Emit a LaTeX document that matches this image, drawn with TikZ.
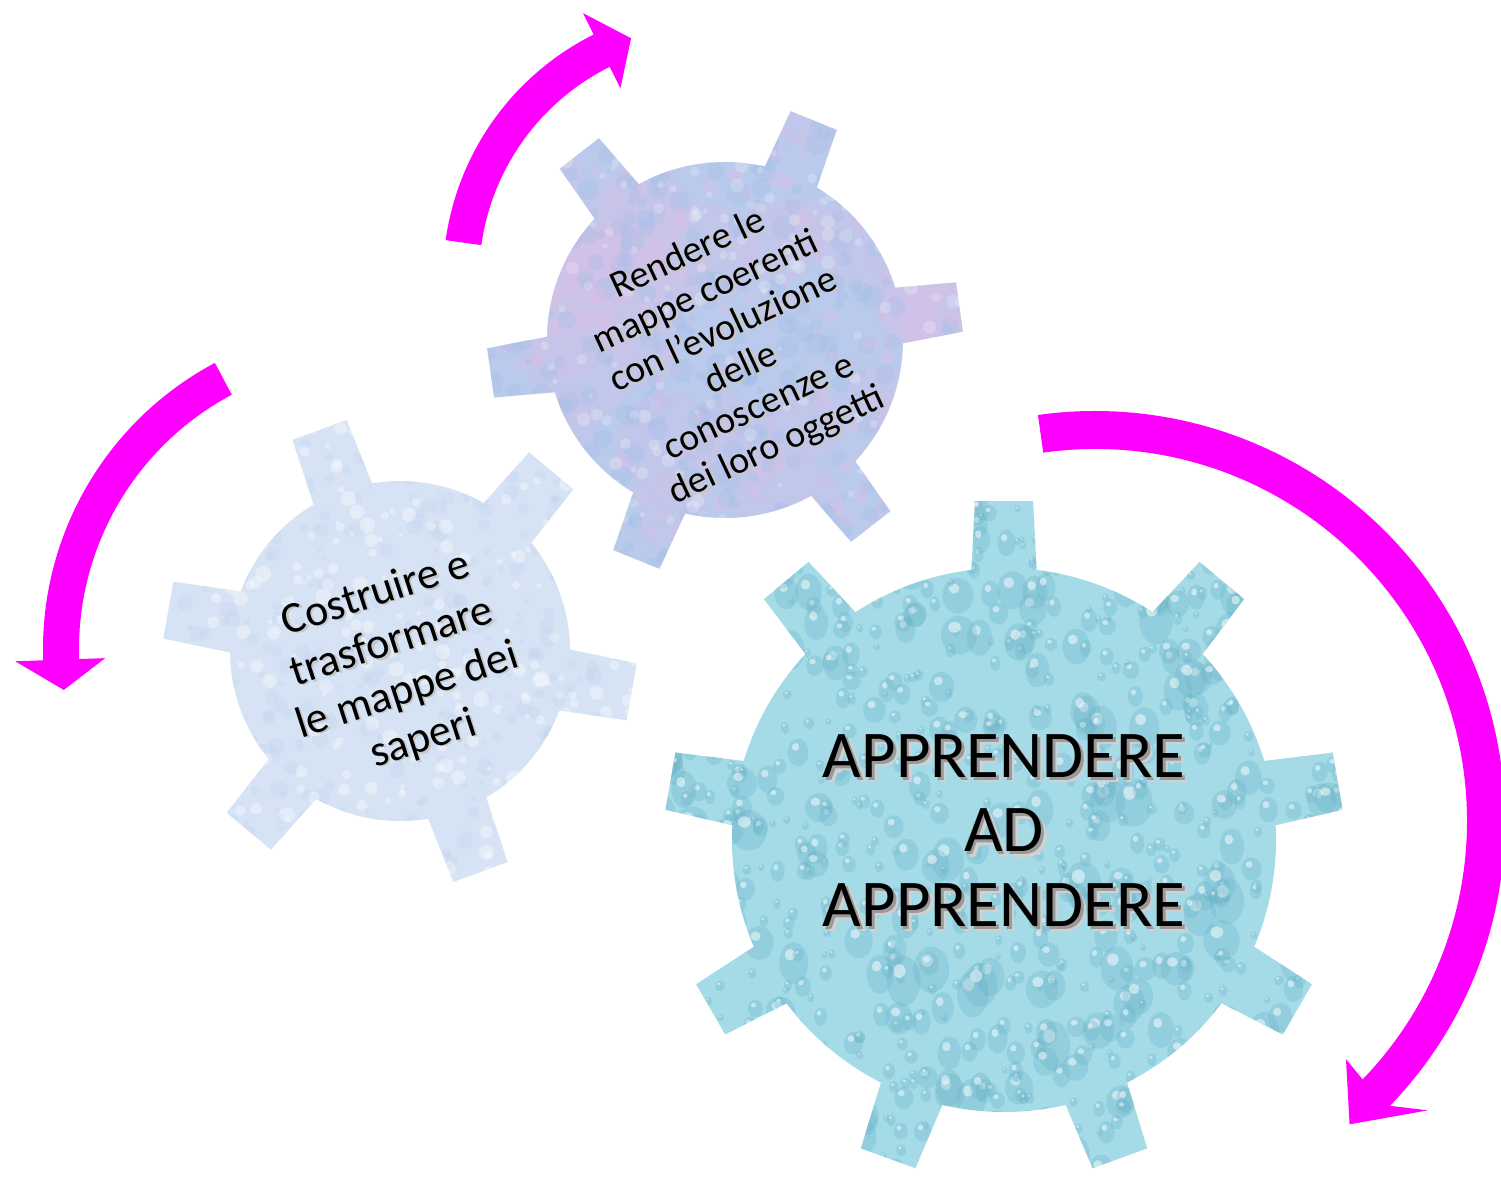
\documentclass[tikz,border=0pt]{standalone}
\usepackage{fontspec}
\setmainfont{Carlito}
\definecolor{magentaarrow}{RGB}{255,0,255}
\definecolor{dropbase}{RGB}{164,219,230}
\definecolor{dropdark}{RGB}{96,172,196}
\definecolor{lavender}{RGB}{186,202,236}
\definecolor{lavpink}{RGB}{226,188,230}
\definecolor{lavblue}{RGB}{160,190,232}
\definecolor{paleblue}{RGB}{214,227,245}
\definecolor{paleblob}{RGB}{194,213,238}

% outline of a gear centred at the origin:
% #1 root radius, #2 tip radius, #3 teeth, #4 angle of first tooth,
% #5 half angle of a tooth at the root, #6 half angle at the tip
\newcommand{\gearpath}[6]{%
  ({#4-#5}:#1)
  \foreach \k in {1,...,#3}{
    -- ({#4+(\k-1)*360/#3-#6}:#2)
    -- ({#4+(\k-1)*360/#3+#6}:#2)
    -- ({#4+(\k-1)*360/#3+#5}:#1)
    arc[start angle={#4+(\k-1)*360/#3+#5}, end angle={#4+\k*360/#3-#5}, radius=#1]
  } -- cycle}

% a line of text with a soft grey shadow below right
\newcommand{\shadowed}[1]{\leavevmode
  \rlap{\kern1.5pt\raisebox{-1.5pt}{\color{black!18}#1}}%
  \rlap{\kern0.8pt\raisebox{-0.8pt}{\color{black!40}#1}}#1}
\newcommand{\faint}[1]{\leavevmode
  \rlap{\kern0.5pt\raisebox{-0.5pt}{\color{black!22}#1}}#1}

\tikzset{
  ringarrow/.style={fill=magentaarrow},
  bigtext/.style={align=center, inner sep=0pt, text=black,
    font=\fontsize{19}{21.2}\selectfont},
  midtext/.style={align=center, inner sep=0pt, text=black,
    font=\fontsize{10.8}{12}\selectfont},
  smalltext/.style={align=center, inner sep=0pt, text=black,
    font=\fontsize{12.5}{14.5}\selectfont},
}

\begin{document}
\begin{tikzpicture}[x=0.01cm,y=0.01cm]
\useasboundingbox (0,0) rectangle (1501,1176);
\fill[white] (0,0) rectangle (1501,1176);

% ---------- circular arrows ----------
% upper arrow, turning clockwise above the middle gear
\begin{scope}[shift={(715,898)}]
  \fill[ringarrow] (172:236) arc[start angle=172, end angle=116.5, radius=236]
    -- (116.5:212) -- (109.3:254) -- (116.5:296) -- (116.5:272)
    arc[start angle=116.5, end angle=172, radius=272] -- cycle;
\end{scope}
% left arrow, turning anticlockwise beside the small gear
\begin{scope}[shift={(367,527)}]
  \fill[ringarrow] (118:288) arc[start angle=118, end angle=182, radius=288]
    -- (182:262) -- (187.7:306) -- (182:352) -- (182:324)
    arc[start angle=182, end angle=118, radius=324] -- cycle;
\end{scope}
% right arrow, turning clockwise round the large gear
\begin{scope}[shift={(1095,355)}]
  \fill[ringarrow] (98:372) arc[start angle=98, end angle=-44, radius=372]
    -- (-43.5:346) -- (-50:396) -- (-41:441) -- (-44:410)
    arc[start angle=-44, end angle=98, radius=410] -- cycle;
\end{scope}

% ---------- small gear (left) ----------
\begin{scope}[shift={(400,525)}]
  \fill[paleblue] \gearpath{170}{237}{6}{110}{10.5}{7.0};
  \begin{scope}
    \clip \gearpath{170}{237}{6}{110}{10.5}{7.0};
    \pgfmathsetseed{311}
    \foreach \i in {1,...,420}{
      \pgfmathsetmacro\px{rnd*480-240}
      \pgfmathsetmacro\py{rnd*480-240}
      \pgfmathsetmacro\pr{2+rnd*7}
      \fill[paleblob, opacity=.35] (\px,\py) circle[radius=\pr];
    }
    \foreach \i in {1,...,320}{
      \pgfmathsetmacro\px{rnd*480-240}
      \pgfmathsetmacro\py{rnd*480-240}
      \pgfmathsetmacro\pr{2+rnd*6}
      \fill[white, opacity=.35] (\px,\py) circle[radius=\pr];
    }
  \end{scope}
\end{scope}

% ---------- middle gear (top) ----------
\begin{scope}[shift={(725,836)}]
  \fill[lavender] \gearpath{178}{238}{6}{8}{9.05}{6.0};
  \begin{scope}
    \clip \gearpath{178}{238}{6}{8}{9.05}{6.0};
    \pgfmathsetseed{527}
    \foreach \i in {1,...,40}{
      \pgfmathsetmacro\px{rnd*480-240}
      \pgfmathsetmacro\py{rnd*480-240}
      \pgfmathsetmacro\pr{25+rnd*35}
      \fill[lavpink, opacity=.18] (\px,\py) circle[radius=\pr];
    }
    \foreach \i in {1,...,380}{
      \pgfmathsetmacro\px{rnd*480-240}
      \pgfmathsetmacro\py{rnd*480-240}
      \pgfmathsetmacro\pr{3+rnd*9}
      \fill[lavblue, opacity=.30] (\px,\py) circle[radius=\pr];
    }
    \foreach \i in {1,...,260}{
      \pgfmathsetmacro\px{rnd*480-240}
      \pgfmathsetmacro\py{rnd*480-240}
      \pgfmathsetmacro\pr{2+rnd*7}
      \fill[lavpink, opacity=.30] (\px,\py) circle[radius=\pr];
    }
    \foreach \i in {1,...,220}{
      \pgfmathsetmacro\px{rnd*480-240}
      \pgfmathsetmacro\py{rnd*480-240}
      \pgfmathsetmacro\pr{2+rnd*5}
      \fill[white, opacity=.22] (\px,\py) circle[radius=\pr];
    }
  \end{scope}
\end{scope}

% ---------- large gear (bottom right) with water drops ----------
\begin{scope}[shift={(1004,336)}]
  \fill[dropbase] \gearpath{272}{340}{9}{90}{6.9}{4.9};
  \begin{scope}
    \clip \gearpath{272}{340}{9}{90}{6.9}{4.9};
    \pgfmathsetseed{9001}
    \foreach \i in {1,...,950}{
      \pgfmathsetmacro\px{rnd*700-350}
      \pgfmathsetmacro\py{rnd*700-350}
      \pgfmathsetmacro\ra{3+rnd*rnd*17}
      \pgfmathsetmacro\rb{\ra*(1.0+0.5*rnd)}
      \pgfmathsetmacro\hx{\px-0.25*\ra}
      \pgfmathsetmacro\hy{\py+0.40*\rb}
      \pgfmathsetmacro\ha{0.35*\ra}
      \pgfmathsetmacro\hb{0.28*\rb}
      \fill[dropdark, opacity=.26] (\px,\py) ellipse[x radius=\ra, y radius=\rb];
      \fill[white, opacity=.50] (\hx,\hy) ellipse[x radius=\ha, y radius=\hb];
    }
  \end{scope}
\end{scope}

% ---------- texts ----------
\node[bigtext] (apprendere) at (1004,343)
  {\shadowed{APPRENDERE}\\\shadowed{AD}\\\shadowed{APPRENDERE}};

\node[midtext, rotate=25] (rendere) at (733,825)
  {\faint{Rendere le}\\\faint{mappe coerenti}\\\faint{con l’evoluzione}\\
   \faint{delle}\\\faint{conoscenze e}\\\faint{dei loro oggetti}};

\node[smalltext, rotate=18] (costruire) at (400,508)
  {\faint{Costruire e}\\\faint{trasformare}\\\faint{le mappe dei}\\\faint{saperi}};
\end{tikzpicture}
\end{document}
